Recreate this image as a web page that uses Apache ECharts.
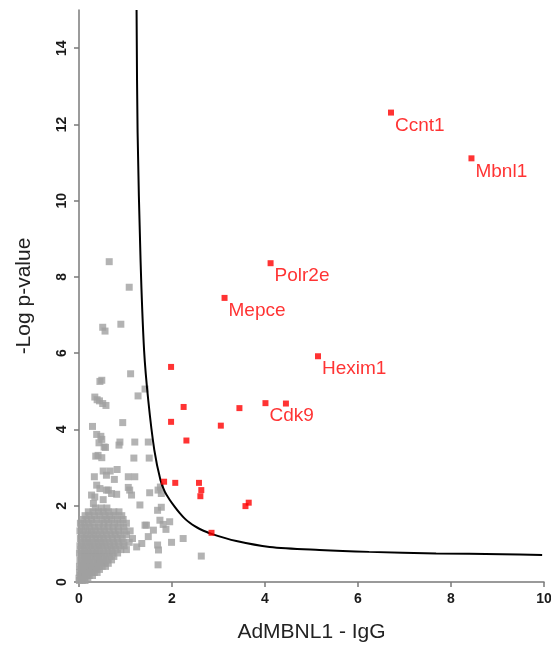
<!DOCTYPE html>
<html>
<head>
<meta charset="utf-8">
<script src="https://cdn.jsdelivr.net/npm/echarts@6/dist/echarts.min.js"></script>
<style>
html,body{margin:0;padding:0;background:#fff;}
#c{width:551px;height:652px;}
</style>
</head>
<body>
<div id="c"></div>
<script>
// ---- data ----
var xTicks = [0, 2, 4, 6, 8, 10];
var yTicks = [0, 2, 4, 6, 8, 10, 12, 14];

// threshold curve, points
var curveX = [1.238, 1.26, 1.324, 1.40, 1.49, 1.62, 1.753, 1.845, 1.953, 2.060, 2.167, 2.275, 2.382, 2.489, 2.597, 2.848, 3.384, 4.10, 5.17, 6.24, 7.68, 9.10, 9.96];
var curveY = [15.0, 11.8, 8.43, 6.07, 4.76, 3.46, 2.670, 2.369, 2.152, 1.971, 1.806, 1.662, 1.552, 1.463, 1.390, 1.262, 1.073, 0.92, 0.84, 0.79, 0.75, 0.73, 0.71];

// significant (red) proteins
var redNames = ['Ccnt1', 'Mbnl1', 'Polr2e', 'Mepce', 'Hexim1', 'Cdk9', '', '', '', '', '', '', '', '', '', '', '', '', '', '', ''];
var redX = [6.71, 8.44, 4.12, 3.13, 5.14, 4.01, 4.45, 1.98, 2.25, 1.98, 3.45, 3.05, 2.31, 1.83, 2.07, 2.58, 2.63, 2.61, 3.65, 3.58, 2.85];
var redY = [12.31, 11.11, 8.36, 7.45, 5.92, 4.69, 4.68, 5.64, 4.59, 4.20, 4.56, 4.10, 3.71, 2.63, 2.60, 2.60, 2.41, 2.25, 2.08, 1.99, 1.29];

// background (grey) proteins, scattered ones
var greyX = [
 0.65, 1.08, 0.51, 0.56, 0.90, 1.11, 0.45, 0.49, 0.34, 1.27, 1.42,
 0.39, 0.44, 0.51, 0.58, 0.94, 0.29, 0.38, 0.47, 0.49, 0.54, 0.88, 0.86, 0.43, 0.57,
 1.20, 1.49, 0.36, 0.41, 0.49, 1.18, 1.51, 0.52, 0.67, 0.82, 0.59, 0.33, 0.76,
 1.06, 1.20, 1.75, 0.38, 0.45, 0.59, 0.70, 0.81, 1.06, 1.13, 1.52, 1.70, 1.77,
 0.27, 0.31, 0.52, 1.31, 1.69, 1.77, 0.34, 0.63, 1.09,
 1.45, 1.74, 1.81, 1.87, 1.99, 2.24, 2.63, 1.70, 1.69, 1.71, 1.95, 1.60, 1.35, 1.49, 1.24, 1.42
];
var greyY = [
 8.40, 7.73, 6.68, 6.58, 6.76, 5.46, 5.26, 5.29, 4.85, 4.88, 5.06,
 4.78, 4.75, 4.68, 4.63, 4.18, 4.08, 3.87, 3.82, 3.74, 3.54, 3.67, 3.59, 3.65, 3.53,
 3.67, 3.67, 3.30, 3.32, 3.26, 3.25, 3.25, 2.91, 2.91, 2.95, 2.80, 2.76, 2.69,
 2.76, 2.76, 2.49, 2.54, 2.45, 2.41, 2.32, 2.30, 2.48, 2.28, 2.34, 2.41, 2.32,
 2.28, 2.06, 2.16, 2.02, 1.88, 1.96, 2.23, 2.41, 2.41,
 1.49, 1.62, 1.51, 1.38, 1.04, 1.14, 0.68, 0.45, 0.97, 0.84, 1.58, 1.36, 1.01, 1.19, 0.92, 1.49
];

// background (grey) proteins, dense low-fold-change wedge, row by row
var wedgeRowY = [0.04, 0.10, 0.17, 0.25, 0.33, 0.41, 0.49, 0.58, 0.67, 0.76, 0.85, 0.95, 1.04, 1.14, 1.24, 1.34, 1.44, 1.54, 1.64, 1.74, 1.84, 1.94];
var wedgeRowX = [
 [0.01, 0.07, 0.13],
 [0.00, 0.05, 0.12, 0.19],
 [0.03, 0.09, 0.15, 0.22, 0.29],
 [0.01, 0.07, 0.13, 0.19, 0.26, 0.33, 0.39],
 [0.04, 0.10, 0.17, 0.23, 0.30, 0.37, 0.44],
 [0.01, 0.08, 0.14, 0.21, 0.28, 0.35, 0.42, 0.50, 0.57],
 [0.05, 0.11, 0.18, 0.25, 0.32, 0.40, 0.47, 0.55, 0.63],
 [0.02, 0.09, 0.16, 0.23, 0.31, 0.38, 0.46, 0.53, 0.61, 0.70],
 [0.05, 0.12, 0.19, 0.27, 0.35, 0.42, 0.50, 0.58, 0.66, 0.75],
 [0.01, 0.08, 0.16, 0.24, 0.31, 0.39, 0.47, 0.55, 0.64, 0.72, 0.83],
 [0.04, 0.12, 0.20, 0.28, 0.36, 0.44, 0.52, 0.61, 0.70, 0.79, 0.90, 1.02],
 [0.02, 0.09, 0.17, 0.25, 0.33, 0.42, 0.50, 0.58, 0.67, 0.76, 0.86, 0.97],
 [0.06, 0.14, 0.22, 0.30, 0.39, 0.47, 0.56, 0.65, 0.74, 0.84, 0.95, 1.08],
 [0.03, 0.11, 0.19, 0.28, 0.36, 0.45, 0.53, 0.62, 0.72, 0.82, 0.93, 1.15],
 [0.07, 0.15, 0.24, 0.32, 0.41, 0.50, 0.59, 0.69, 0.78, 0.88, 1.02],
 [0.02, 0.10, 0.19, 0.27, 0.36, 0.46, 0.55, 0.65, 0.75, 0.85, 0.97, 1.10],
 [0.06, 0.14, 0.23, 0.33, 0.42, 0.52, 0.62, 0.73, 0.84, 0.96],
 [0.03, 0.11, 0.20, 0.29, 0.44, 0.54, 0.64, 0.76, 0.88, 1.02],
 [0.08, 0.17, 0.27, 0.37, 0.50, 0.60, 0.70, 0.83, 0.95],
 [0.13, 0.22, 0.33, 0.45, 0.56, 0.66, 0.78, 0.92],
 [0.20, 0.30, 0.42, 0.52, 0.63, 0.75, 0.86],
 [0.35, 0.48, 0.60]
];

// ---- build series data ----
function zip(a, b) { var r = []; for (var i = 0; i < a.length; i++) r.push([a[i], b[i]]); return r; }
var greyData = zip(greyX, greyY);
for (var r = 0; r < wedgeRowY.length; r++) {
  for (var k = 0; k < wedgeRowX[r].length; k++) greyData.push([wedgeRowX[r][k], wedgeRowY[r]]);
}
var redData = [];
for (var i = 0; i < redX.length; i++) {
  var item = { value: [redX[i], redY[i]], name: redNames[i] };
  if (redNames[i]) item.label = { show: true };
  redData.push(item);
}

var font = "'Liberation Sans', Arial, sans-serif";
var chart = echarts.init(document.getElementById('c'), null, { renderer: 'canvas' });
chart.setOption({
  animation: false,
  backgroundColor: '#ffffff',
  grid: { left: 79, right: 7, top: 10, bottom: 70, containLabel: false, outerBoundsMode: 'none' },
  xAxis: {
    type: 'value', min: 0, max: 10, interval: 2,
    name: 'AdMBNL1 - IgG', nameLocation: 'middle', nameGap: 40,
    nameTextStyle: { fontFamily: font, fontSize: 21, color: '#222' },
    axisLine: { onZero: false, lineStyle: { color: '#7a7a7a', width: 1.5 } },
    axisTick: { show: true, length: 5, lineStyle: { color: '#7a7a7a', width: 1.5 } },
    axisLabel: { margin: 10, fontFamily: font, fontSize: 14, fontWeight: 'bold', color: '#1a1a1a',
      formatter: function (v) { return xTicks.indexOf(v) >= 0 ? String(v) : ''; } },
    splitLine: { show: false }
  },
  yAxis: {
    type: 'value', min: 0, max: 15, interval: 2,
    name: '-Log p-value', nameLocation: 'middle', nameGap: 44, nameRotate: 90,
    nameTextStyle: { fontFamily: font, fontSize: 21, color: '#222' },
    axisLine: { onZero: false, lineStyle: { color: '#7a7a7a', width: 1.5 } },
    axisTick: { show: true, length: 5, lineStyle: { color: '#7a7a7a', width: 1.5 } },
    axisLabel: { rotate: 90, margin: 10, showMaxLabel: false, fontFamily: font, fontSize: 14, fontWeight: 'bold', color: '#1a1a1a',
      formatter: function (v) { return yTicks.indexOf(v) >= 0 ? String(v) : ''; } },
    splitLine: { show: false }
  },
  series: [
    {
      type: 'scatter', data: greyData, symbol: 'rect', symbolSize: 7,
      itemStyle: { color: '#a0a0a0' }, z: 2
    },
    {
      type: 'line', data: zip(curveX, curveY), showSymbol: false, smooth: 0.3,
      lineStyle: { color: '#000', width: 2 }, z: 3
    },
    {
      type: 'scatter', data: redData, symbol: 'rect', symbolSize: 6,
      itemStyle: { color: '#ff0000' }, z: 4,
      label: { show: false, position: 'right', distance: 1, offset: [0, 13],
        formatter: '{b}', fontFamily: font, fontSize: 19, color: '#ff0000' }
    }
  ]
});
</script>
</body>
</html>
